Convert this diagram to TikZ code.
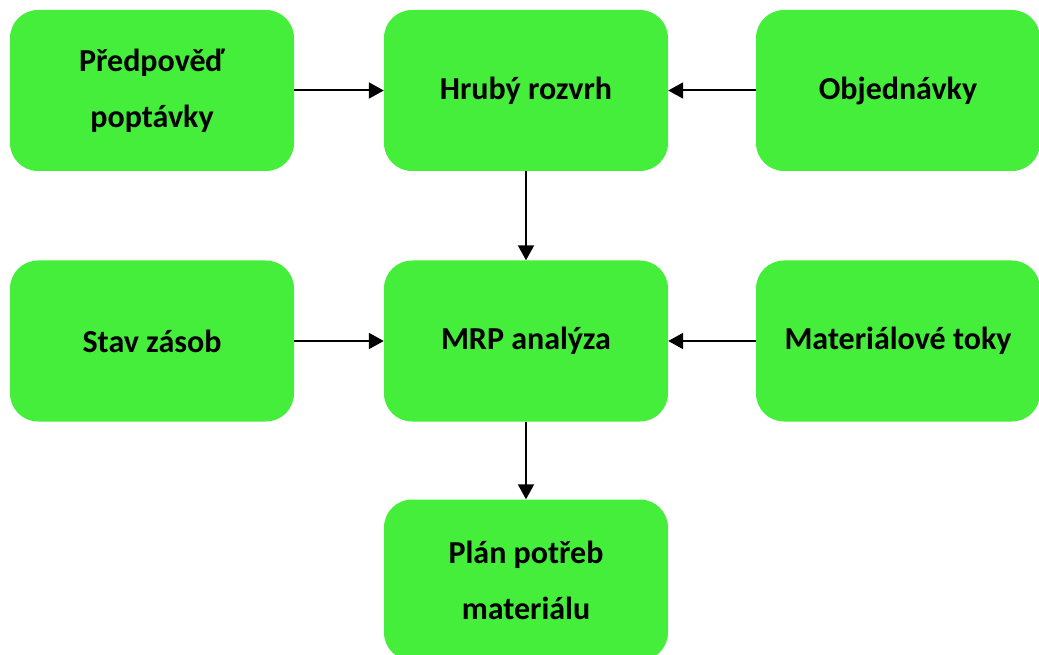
\documentclass[tikz,border=0pt]{standalone}
\usepackage{fontspec}
\setmainfont{Carlito}
\usetikzlibrary{arrows.meta}
\definecolor{boxgreen}{RGB}{68,238,58}
\begin{document}
\begin{tikzpicture}[x=1pt,y=-1pt,
  box/.style={fill=boxgreen, draw=none, rounded corners=28pt, minimum width=284pt, minimum height=161pt, inner sep=0pt, align=center, font=\bfseries\fontsize{32}{56}\selectfont},
  conn/.style={line width=2pt, -{Triangle[length=15pt,width=16pt]}}]
\useasboundingbox (0,0) rectangle (1039,655);
\node[box] (pred) at (152,90.5) {Předpověď\\poptávky};
\node[box] (hruby) at (526,90.5) {Hrubý rozvrh};
\node[box] (obj) at (898,90.5) {Objednávky};
\node[box] (stav) at (152,341) {Stav zásob};
\node[box] (mrp) at (526,341) {MRP analýza};
\node[box] (mat) at (898,341) {Materiálové toky};
\node[box] (plan) at (526,580) {Plán potřeb\\materiálu};
\draw[conn] (pred) -- (hruby);
\draw[conn] (obj) -- (hruby);
\draw[conn] (hruby) -- (mrp);
\draw[conn] (stav) -- (mrp);
\draw[conn] (mat) -- (mrp);
\draw[conn] (mrp) -- (plan);
\end{tikzpicture}
\end{document}
